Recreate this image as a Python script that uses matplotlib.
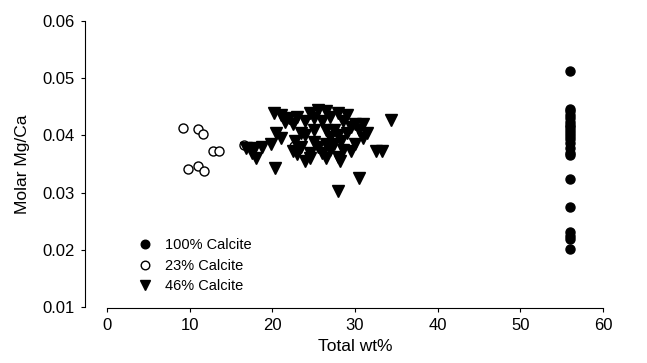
import matplotlib.pyplot as plt

plt.rcParams['font.family'] = ['Liberation Sans', 'DejaVu Sans']

# 100% Calcite (all at the same total wt%)
calcite100_y = [0.0512, 0.0447, 0.0442, 0.0436, 0.0430, 0.0424, 0.0419, 0.0414,
                0.0409, 0.0404, 0.0399, 0.0394, 0.0386, 0.0378, 0.0370, 0.0366,
                0.0323, 0.0275, 0.0231, 0.0224, 0.0219, 0.0202]
calcite100_x = [56.0] * len(calcite100_y)

# 23% Calcite
calcite23_x = [9.2, 11.0, 11.6, 12.8, 13.5, 9.8, 11.0, 11.7, 16.6, 22.6]
calcite23_y = [0.0413, 0.0411, 0.0403, 0.0373, 0.0373, 0.0342, 0.0346, 0.0337, 0.0383, 0.0381]

# 46% Calcite
calcite46_x = [20.2, 21.0, 24.5, 25.5, 26.5, 28.0, 22.0, 23.0, 27.0, 29.0,
               21.5, 22.5, 24.0, 25.0, 26.0, 28.5, 30.0, 31.0, 34.4, 29.5,
               20.5, 23.5, 25.0, 26.5, 27.5, 29.0, 30.5, 31.5, 28.0, 24.0, 21.0, 27.0,
               16.8, 17.8, 18.8, 19.8, 22.8, 25.0, 27.5, 28.3, 30.0, 31.0, 23.5, 25.5, 26.5,
               17.5, 22.5, 23.0, 24.5, 27.0, 28.5, 29.5, 32.5, 33.3, 26.0,
               18.0, 24.5, 26.5, 28.0, 24.0, 28.2,
               20.3, 30.5, 28.0]
calcite46_y = [0.0440, 0.0435, 0.0440, 0.0445, 0.0443, 0.0440, 0.0430, 0.0432, 0.0432, 0.0435,
               0.0423, 0.0420, 0.0425, 0.0430, 0.0425, 0.0425, 0.0420, 0.0420, 0.0427, 0.0415,
               0.0405, 0.0405, 0.0410, 0.0410, 0.0410, 0.0405, 0.0410, 0.0405, 0.0400, 0.0400, 0.0395, 0.0398,
               0.0378, 0.0378, 0.0380, 0.0385, 0.0390, 0.0388, 0.0385, 0.0390, 0.0385, 0.0395, 0.0380, 0.0380, 0.0385,
               0.0370, 0.0372, 0.0368, 0.0370, 0.0375, 0.0375, 0.0373, 0.0373, 0.0373, 0.0370,
               0.0360, 0.0360, 0.0360, 0.0362, 0.0355, 0.0355,
               0.0343, 0.0325, 0.0303]

fig = plt.figure(figsize=(6.47, 3.63), dpi=100)
ax = fig.add_axes([107 / 647, 1 - 307 / 363, 496 / 647, 286 / 363])

ax.plot(calcite100_x, calcite100_y, 'o', color='black', markersize=6.5, label='100% Calcite')
ax.plot(calcite23_x, calcite23_y, 'o', markerfacecolor='white', markeredgecolor='black',
        markeredgewidth=1.0, markersize=6.5, label='23% Calcite')
ax.plot(calcite46_x, calcite46_y, 'v', color='black', markersize=8, label='46% Calcite')

ax.set_xlim(0, 60)
ax.set_ylim(0.01, 0.06)
ax.set_xticks(range(0, 61, 10))
ax.set_yticks([0.01, 0.02, 0.03, 0.04, 0.05, 0.06])
ax.set_yticklabels(['0.01', '0.02', '0.03', '0.04', '0.05', '0.06'])

ax.spines['top'].set_visible(False)
ax.spines['right'].set_visible(False)
ax.spines['left'].set_position(('outward', 16))
ax.spines['bottom'].set_position(('outward', 1))
ax.tick_params(direction='out', length=3, width=0.8, labelsize=12, pad=4)

ax.set_xlabel('Total wt%', fontsize=12.5, labelpad=4)
ax.set_ylabel('Molar Mg/Ca', fontsize=12.5, labelpad=9)

ax.legend(loc='lower left', bbox_to_anchor=(0.05, 0.027), frameon=False, fontsize=10.5,
          handletextpad=0.9, labelspacing=0.45, borderaxespad=0.0, handlelength=1.0,
          markerscale=0.95)

fig.savefig('out.png', dpi=100)
